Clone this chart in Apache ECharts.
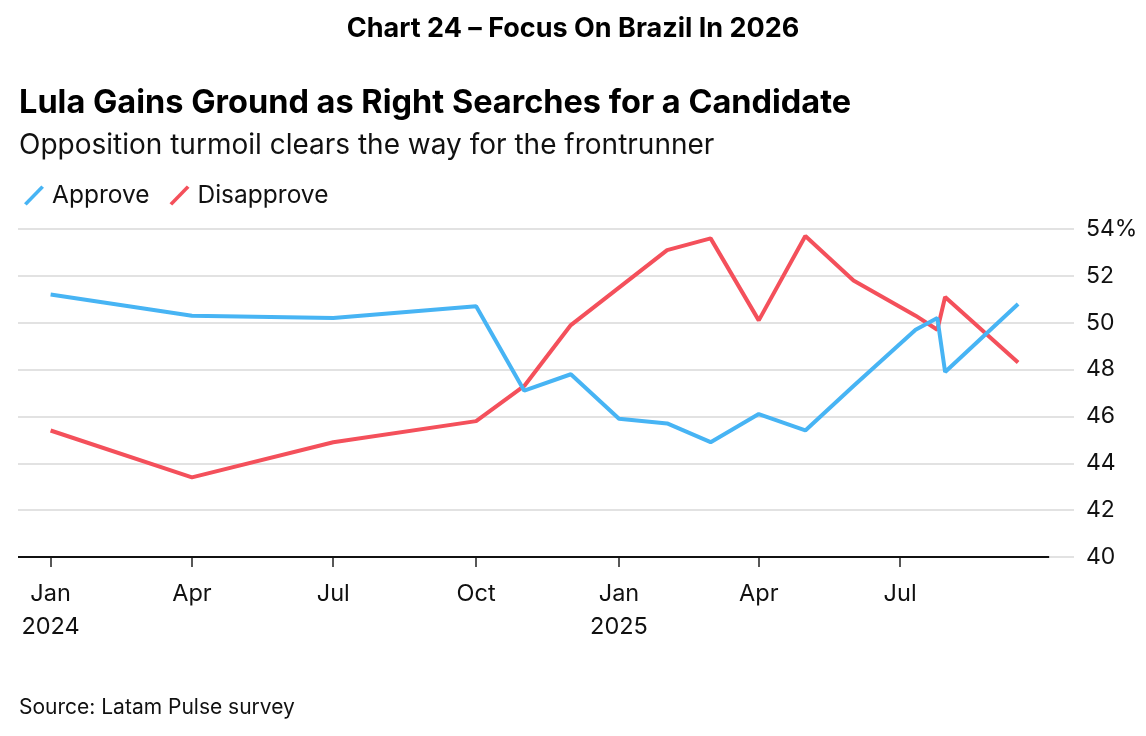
<!DOCTYPE html>
<html>
<head>
<meta charset="utf-8">
<script src="https://cdn.jsdelivr.net/npm/echarts@6/dist/echarts.min.js"></script>
<style>
html,body{margin:0;padding:0;background:#fff;}
#chart{width:1146px;height:736px;}
</style>
</head>
<body>
<div id="chart"></div>
<script>
// ---- data ----
const dates = ['2024-01-01','2024-04-01','2024-07-01','2024-10-01','2024-11-01','2024-12-01',
  '2025-01-01','2025-02-01','2025-03-01','2025-04-01','2025-05-01','2025-06-01',
  '2025-07-11','2025-07-25','2025-07-30','2025-09-15'];
const approve    = [51.2,50.3,50.2,50.7,47.1,47.8,45.9,45.7,44.9,46.1,45.4,47.3,49.7,50.2,47.9,50.8];
const disapprove = [45.4,43.4,44.9,45.8,47.3,49.9,51.5,53.1,53.6,50.1,53.7,51.8,50.3,49.7,51.1,48.3];
const tickDates  = ['2024-01-01','2024-04-01','2024-07-01','2024-10-01','2025-01-01','2025-04-01','2025-07-01'];
const tickLabels = ['Jan\n2024','Apr','Jul','Oct','Jan\n2025','Apr','Jul'];
const yTicks = [40,42,44,46,48,50,52,54];

// days since epoch (UTC)
const t = s => Math.round(Date.UTC(+s.slice(0,4), +s.slice(5,7)-1, +s.slice(8,10)) / 86400000);
const xMin = t('2023-12-11'), xMax = t('2025-10-21'), baseEnd = t('2025-10-05');
const tickTs = tickDates.map(t);

const font = 'Inter, Roboto, "Liberation Sans", Arial, sans-serif';
const chart = echarts.init(document.getElementById('chart'));
chart.setOption({
  backgroundColor: '#fff',
  animation: false,
  textStyle: {fontFamily: font},
  title: [
    {text: 'Chart 24 – Focus On Brazil In 2026', left: 'center', top: 10,
     textStyle: {fontSize: 27, fontWeight: 'bold', color: '#000', fontFamily: font}},
    {text: 'Lula Gains Ground as Right Searches for a Candidate', left: 14, top: 82,
     textStyle: {fontSize: 32.5, fontWeight: 'bold', color: '#000', fontFamily: font}},
    {text: 'Opposition turmoil clears the way for the frontrunner', left: 14, top: 127,
     textStyle: {fontSize: 28, fontWeight: 'normal', color: '#111', fontFamily: font}},
    {text: 'Source: Latam Pulse survey', left: 14, top: 692,
     textStyle: {fontSize: 21, fontWeight: 'normal', color: '#111', fontFamily: font}}
  ],
  legend: {
    left: 19, top: 178, itemWidth: 20, itemHeight: 22, itemGap: 20,
    icon: 'path://M0,19.5 L3,22 L22,2.5 L19,0 Z',
    textStyle: {fontSize: 24.5, color: '#111', fontFamily: font, padding: [0,0,0,3]},
    data: ['Approve','Disapprove']
  },
  grid: {left: 18, right: 72, top: 229, bottom: 179, containLabel: false},
  xAxis: {
    type: 'value', min: xMin, max: xMax,
    axisLine: {show: false},
    axisTick: {show: true, length: 10, customValues: tickTs, lineStyle: {color: '#222', width: 1.5}},
    axisLabel: {
      customValues: tickTs, fontSize: 23.5, color: '#111', lineHeight: 33, margin: 20,
      formatter: v => { const i = tickTs.indexOf(v); return i >= 0 ? tickLabels[i] : ''; }
    },
    splitLine: {show: false}
  },
  yAxis: {
    type: 'value', position: 'right', min: 40, max: 54, interval: 2,
    axisLine: {show: false}, axisTick: {show: false},
    axisLabel: {fontSize: 23, color: '#111', margin: 12,
      formatter: v => v === yTicks[yTicks.length-1] ? v + '%' : String(v)},
    splitLine: {lineStyle: {color: '#d9d9d9', width: 1.5}}
  },
  series: [
    {name: 'Approve', type: 'line', showSymbol: false, symbol: 'none',
     data: dates.map((d,i) => [t(d), approve[i]]),
     lineStyle: {color: '#47B4F4', width: 4}, itemStyle: {color: '#47B4F4'}, z: 3,
     markLine: {silent: true, symbol: 'none', label: {show: false},
       lineStyle: {color: '#111', width: 2, type: 'solid'},
       data: [[{coord: [xMin, 40]}, {coord: [baseEnd, 40]}]]}},
    {name: 'Disapprove', type: 'line', showSymbol: false, symbol: 'none',
     data: dates.map((d,i) => [t(d), disapprove[i]]),
     lineStyle: {color: '#F4505B', width: 4}, itemStyle: {color: '#F4505B'}, z: 2}
  ]
});
</script>
</body>
</html>
